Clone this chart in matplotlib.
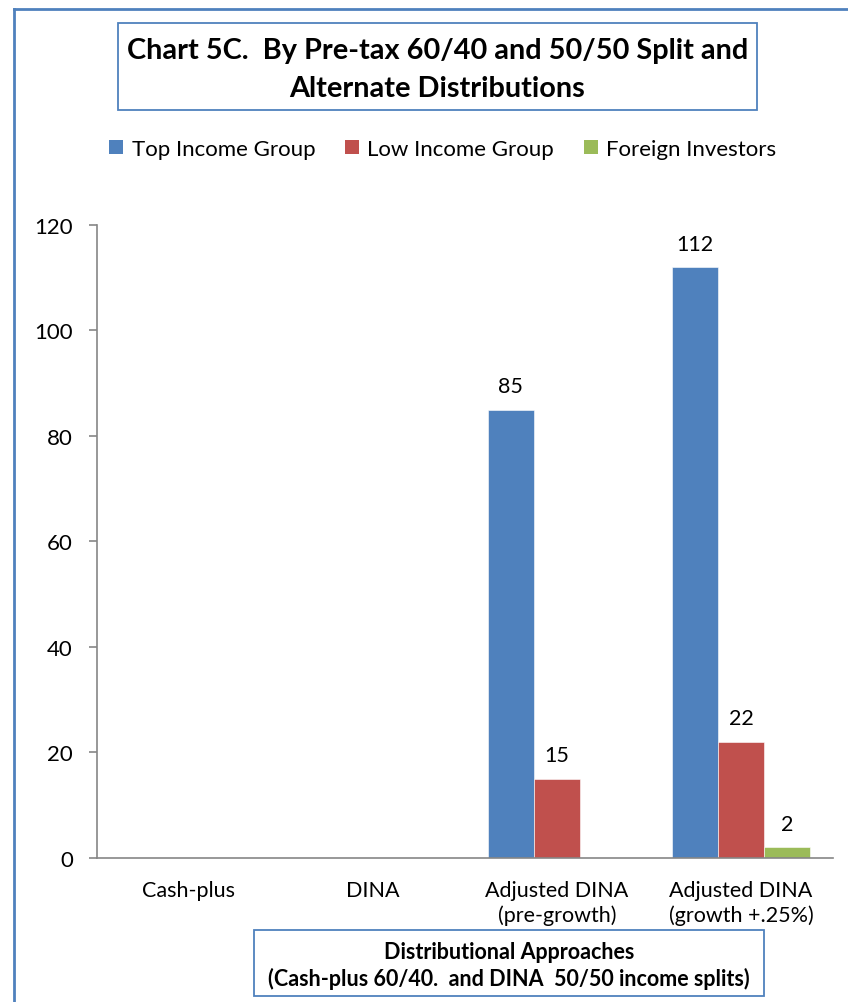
import matplotlib
matplotlib.use("Agg")
import matplotlib.pyplot as plt
from matplotlib.patches import Rectangle, Patch
from matplotlib.lines import Line2D
import numpy as np

plt.rcParams['font.family'] = ['Lato', 'DejaVu Sans']

categories = ["Cash-plus", "DINA", "Adjusted DINA\n(pre-growth)", "Adjusted DINA\n(growth +.25%)"]
top_income = [0, 0, 85, 112]
low_income = [0, 0, 15, 22]
foreign_investors = [0, 0, 0, 2]
series_names = ["Top Income Group", "Low Income Group", "Foreign Investors"]
series_colors = ["#4F81BD", "#C0504D", "#9BBB59"]
y_ticks = [0, 20, 40, 60, 80, 100, 120]

title_lines = "Chart 5C.  By Pre-tax 60/40 and 50/50 Split and\nAlternate Distributions"
xlabel_lines = "Distributional Approaches\n(Cash-plus 60/40.  and DINA  50/50 income splits)"

W, H = 848, 1003
fig = plt.figure(figsize=(W / 100, H / 100), dpi=100)

def fx(px):
    return px / W

def fy(py):
    return 1 - py / H

# outer chart border (top and left edges visible)
border = "#4F81BD"
fig.add_artist(Line2D([fx(14), 1.0], [fy(10), fy(10)], color=border, lw=2.0, transform=fig.transFigure))
fig.add_artist(Line2D([fx(14), fx(14)], [fy(10), 0.0], color=border, lw=2.0, transform=fig.transFigure))

# plot area
left, right, bottom, top = 96.5, 833, 858.7, 226
ax = fig.add_axes([fx(left), fy(bottom), fx(right) - fx(left), fy(top) - fy(bottom)])

x = np.arange(len(categories))
width = 0.25
all_series = [top_income, low_income, foreign_investors]
offsets = [-width, 0, width]
for vals, off, col in zip(all_series, offsets, series_colors):
    bars = ax.bar(x + off, vals, width, color=col, edgecolor="white", linewidth=0.4, zorder=2)
    for b, v in zip(bars, vals):
        if v:
            ax.annotate(f"{v}", (b.get_x() + b.get_width() / 2, v), xytext=(0, 17),
                        textcoords="offset points", ha="center", va="center",
                        fontsize=15.5, color="black")

ax.set_xlim(-0.5, len(categories) - 0.5)
ax.set_ylim(0, 120)
ax.set_yticks(y_ticks)
ax.set_xticks(x)
ax.set_xticklabels(categories, fontsize=15.5, linespacing=1.25)
ax.tick_params(axis="y", labelsize=16, length=6, width=1.2, color="#868686", pad=11)
ax.tick_params(axis="x", length=0, pad=16)
for side in ("top", "right"):
    ax.spines[side].set_visible(False)
for side in ("left", "bottom"):
    ax.spines[side].set_color("#868686")
    ax.spines[side].set_linewidth(1.2)

# title box
fig.add_artist(Rectangle((fx(118), fy(111)), fx(757) - fx(118), fy(24) - fy(111),
                         transform=fig.transFigure, fill=False, edgecolor=border, lw=1.3))
fig.text(fx(437.5), fy(70), title_lines, ha="center", va="center", fontsize=20.8,
         fontweight="bold", linespacing=1.6)

# legend
handles = [Patch(facecolor=c, edgecolor="none") for c in series_colors]
fig.legend(handles, series_names, loc="center", bbox_to_anchor=(fx(443), fy(150)), ncol=3,
           frameon=False, fontsize=16, handlelength=0.6, handleheight=0.6,
           handletextpad=0.4, columnspacing=1.35)

# axis title box
fig.add_artist(Rectangle((fx(254), fy(997)), fx(764) - fx(254), fy(931) - fy(997),
                         transform=fig.transFigure, fill=False, edgecolor=border, lw=1.3))
fig.text(fx(509), fy(966), xlabel_lines, ha="center", va="center", fontsize=15.5,
         fontweight="bold", linespacing=1.3)

fig.savefig("out.png", dpi=100)
